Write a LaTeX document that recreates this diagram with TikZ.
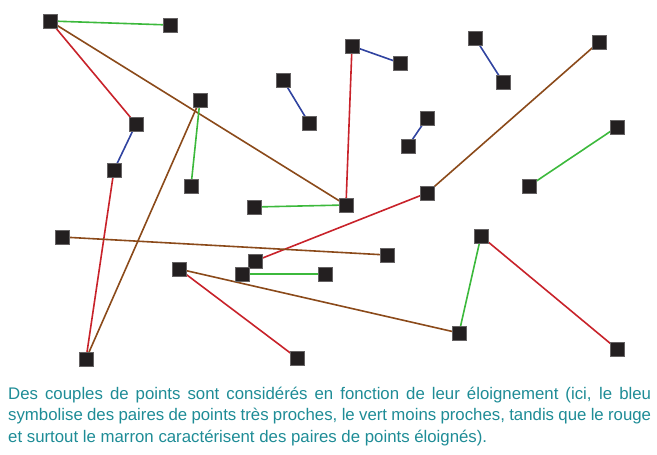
\documentclass[tikz,border=0pt]{standalone}
\usepackage{fontspec}
\setmainfont{Liberation Sans}
\usetikzlibrary{backgrounds}
\definecolor{pgreen}{HTML}{3CB93C}
\definecolor{pred}{HTML}{C8222A}
\definecolor{pbrown}{HTML}{8B4A1A}
\definecolor{pblue}{HTML}{3043A0}
\definecolor{psq}{HTML}{231F20}
\definecolor{ptext}{HTML}{1E8C96}
\tikzset{
  pt/.style={rectangle, fill=psq, draw=psq!70!white, line width=0.4pt, minimum size=14pt, inner sep=0pt},
  lnk/.style={line width=1.6pt},
  gl/.style={lnk, draw=pgreen},
  rl/.style={lnk, draw=pred},
  bl/.style={lnk, draw=pbrown},
  ul/.style={lnk, draw=pblue},
}
\begin{document}
\begin{tikzpicture}[x=1pt,y=-1pt]
\useasboundingbox (0,0) rectangle (657,455);
% points
\node[pt] (nA) at (50,21) {};
\node[pt] (nB) at (170,25) {};
\node[pt] (nC) at (200,100) {};
\node[pt] (nD) at (283,80) {};
\node[pt] (nE) at (309,123) {};
\node[pt] (nF) at (136,124) {};
\node[pt] (nG) at (114,170) {};
\node[pt] (nH) at (191,186) {};
\node[pt] (nI) at (352,46) {};
\node[pt] (nJ) at (400,63) {};
\node[pt] (nK) at (475,38) {};
\node[pt] (nL) at (503,82) {};
\node[pt] (nM) at (599,42) {};
\node[pt] (nN) at (427,118) {};
\node[pt] (nO) at (408,146) {};
\node[pt] (nP) at (617,127) {};
\node[pt] (nQ) at (529,186) {};
\node[pt] (nR) at (427,193) {};
\node[pt] (nS) at (254,207) {};
\node[pt] (nT) at (62,237) {};
\node[pt] (nU) at (179,269) {};
\node[pt] (nV) at (255,261) {};
\node[pt] (nW) at (242,274) {};
\node[pt] (nX) at (325,274) {};
\node[pt] (nY) at (86,359) {};
\node[pt] (nZ) at (297,358) {};
\node[pt] (nZZ) at (346,205) {};
\node[pt] (nAA) at (481,236) {};
\node[pt] (nAB) at (387,255) {};
\node[pt] (nAC) at (459,333) {};
\node[pt] (nAD) at (617,349) {};
% links
\begin{scope}[on background layer]
\draw[gl] (nA.center) -- (nB.center);
\draw[rl] (nA.center) -- (nF.center);
\draw[bl] (nA.center) -- (nZZ.center);
\draw[ul] (nF.center) -- (nG.center);
\draw[rl] (nG.center) -- (nY.center);
\draw[bl] (nC.center) -- (nY.center);
\draw[gl] (nC.center) -- (nH.center);
\draw[ul] (nD.center) -- (nE.center);
\draw[ul] (nI.center) -- (nJ.center);
\draw[rl] (nI.center) -- (nZZ.center);
\draw[ul] (nK.center) -- (nL.center);
\draw[ul] (nN.center) -- (nO.center);
\draw[bl] (nM.center) -- (nR.center);
\draw[gl] (nP.center) -- (nQ.center);
\draw[gl] (nS.center) -- (nZZ.center);
\draw[rl] (nR.center) -- (nV.center);
\draw[bl] (nT.center) -- (nAB.center);
\draw[bl] (nU.center) -- (nAC.center);
\draw[rl] (nU.center) -- (nZ.center);
\draw[gl] (nW.center) -- (nX.center);
\draw[gl] (nAA.center) -- (nAC.center);
\draw[rl] (nAA.center) -- (nAD.center);
\end{scope}
% caption
\node[anchor=base west, text width=643pt, align=justify, inner sep=0pt, text=ptext,
      font=\fontsize{16.8}{21.5}\selectfont] (cap) at (8,399)
  {Des couples de points sont considérés en fonction de leur éloignement (ici, le bleu\linebreak
   symbolise des paires de points très proches, le vert moins proches, tandis que le rouge\linebreak
   et surtout le marron caractérisent des paires de points éloignés).};
\end{tikzpicture}
\end{document}
